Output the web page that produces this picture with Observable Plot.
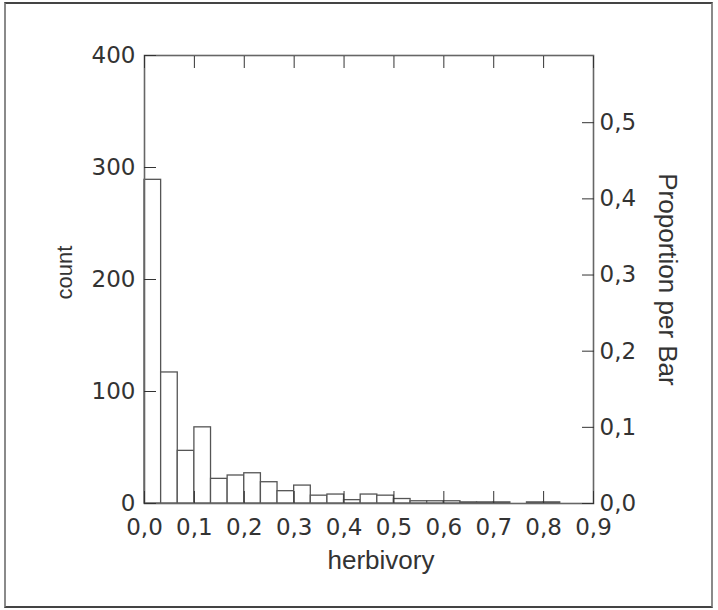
<!DOCTYPE html>
<html><head><meta charset="utf-8">
<script src="https://cdn.jsdelivr.net/npm/d3@7"></script>
<script src="https://cdn.jsdelivr.net/npm/@observablehq/plot@0.6"></script>
<style>
html,body{margin:0;padding:0;background:#fff;}
#wrap{position:relative;width:718px;height:610px;overflow:hidden;}
#border{position:absolute;left:4px;top:2px;width:705px;height:602px;border:2px solid #444;border-left-color:#8a8a8a;border-right-color:#8a8a8a;pointer-events:none;}
</style></head><body>
<div id="wrap"><div id="chart"></div><div id="border"></div></div>
<script>
// Histogram of herbivory (bin width 1/30)
const binWidth = 1 / 30;
const counts = [289, 117, 47, 68, 22, 25, 27, 19, 11, 16, 7, 8, 3, 8, 7, 4, 2, 2, 2, 1, 1, 1, 0, 1, 1, 0, 0];
const sampleSize = 680;
const countTicks = [0, 100, 200, 300, 400];
const xTicks = [0, 0.1, 0.2, 0.3, 0.4, 0.5, 0.6, 0.7, 0.8, 0.9];
const propTicks = [0, 0.1, 0.2, 0.3, 0.4, 0.5];
const xLabel = "herbivory";
const yLabel = "count";
const y2Label = "Proportion per Bar";

const bins = counts.map((c, i) => ({x1: i * binWidth, x2: (i + 1) * binWidth, count: c}));
const comma = v => v.toFixed(1).replace(".", ",");

const plot = Plot.plot({
  width: 718, height: 610,
  marginLeft: 144, marginRight: 125, marginTop: 55, marginBottom: 107,
  style: {fontFamily: "DejaVu Sans", fontSize: "23px", color: "#333", background: "white"},
  x: {domain: [0, 0.9]},
  y: {domain: [0, 400]},
  marks: [
    Plot.rectY(bins, {x1: "x1", x2: "x2", y: "count", fill: "white", stroke: "#555", strokeWidth: 1.3}),
    Plot.frame({stroke: "#666", strokeWidth: 1.6}),
    Plot.axisY({anchor: "left", ticks: countTicks, tickSize: -12, tickPadding: 21, label: null, color: "#333"}),
    Plot.axisY({anchor: "right", ticks: propTicks.map(p => p * sampleSize), tickSize: -12, tickPadding: 18,
      tickFormat: v => comma(v / sampleSize), label: null, color: "#333"}),
    Plot.axisX({anchor: "bottom", ticks: xTicks, tickSize: -12, tickPadding: 27, tickFormat: comma, label: null, color: "#333"}),
    Plot.axisX({anchor: "top", ticks: xTicks, tickSize: -12, tickFormat: () => "", label: null, color: "#333"}),
    Plot.text([yLabel], {frameAnchor: "left", textAnchor: "middle", dx: -80, dy: -7, rotate: -90, text: d => d, fontSize: 22, fontFamily: "Liberation Sans", fill: "#333"}),
    Plot.text([y2Label], {frameAnchor: "right", textAnchor: "middle", dx: 74, rotate: 90, text: d => d, fontSize: 26, fontFamily: "Liberation Sans", fill: "#333"}),
    Plot.text([xLabel], {frameAnchor: "bottom", dx: 12, dy: 65, text: d => d, fontSize: 26, fontFamily: "Liberation Sans", fill: "#333"})
  ]
});
document.getElementById("chart").appendChild(plot);
</script>
</body></html>
